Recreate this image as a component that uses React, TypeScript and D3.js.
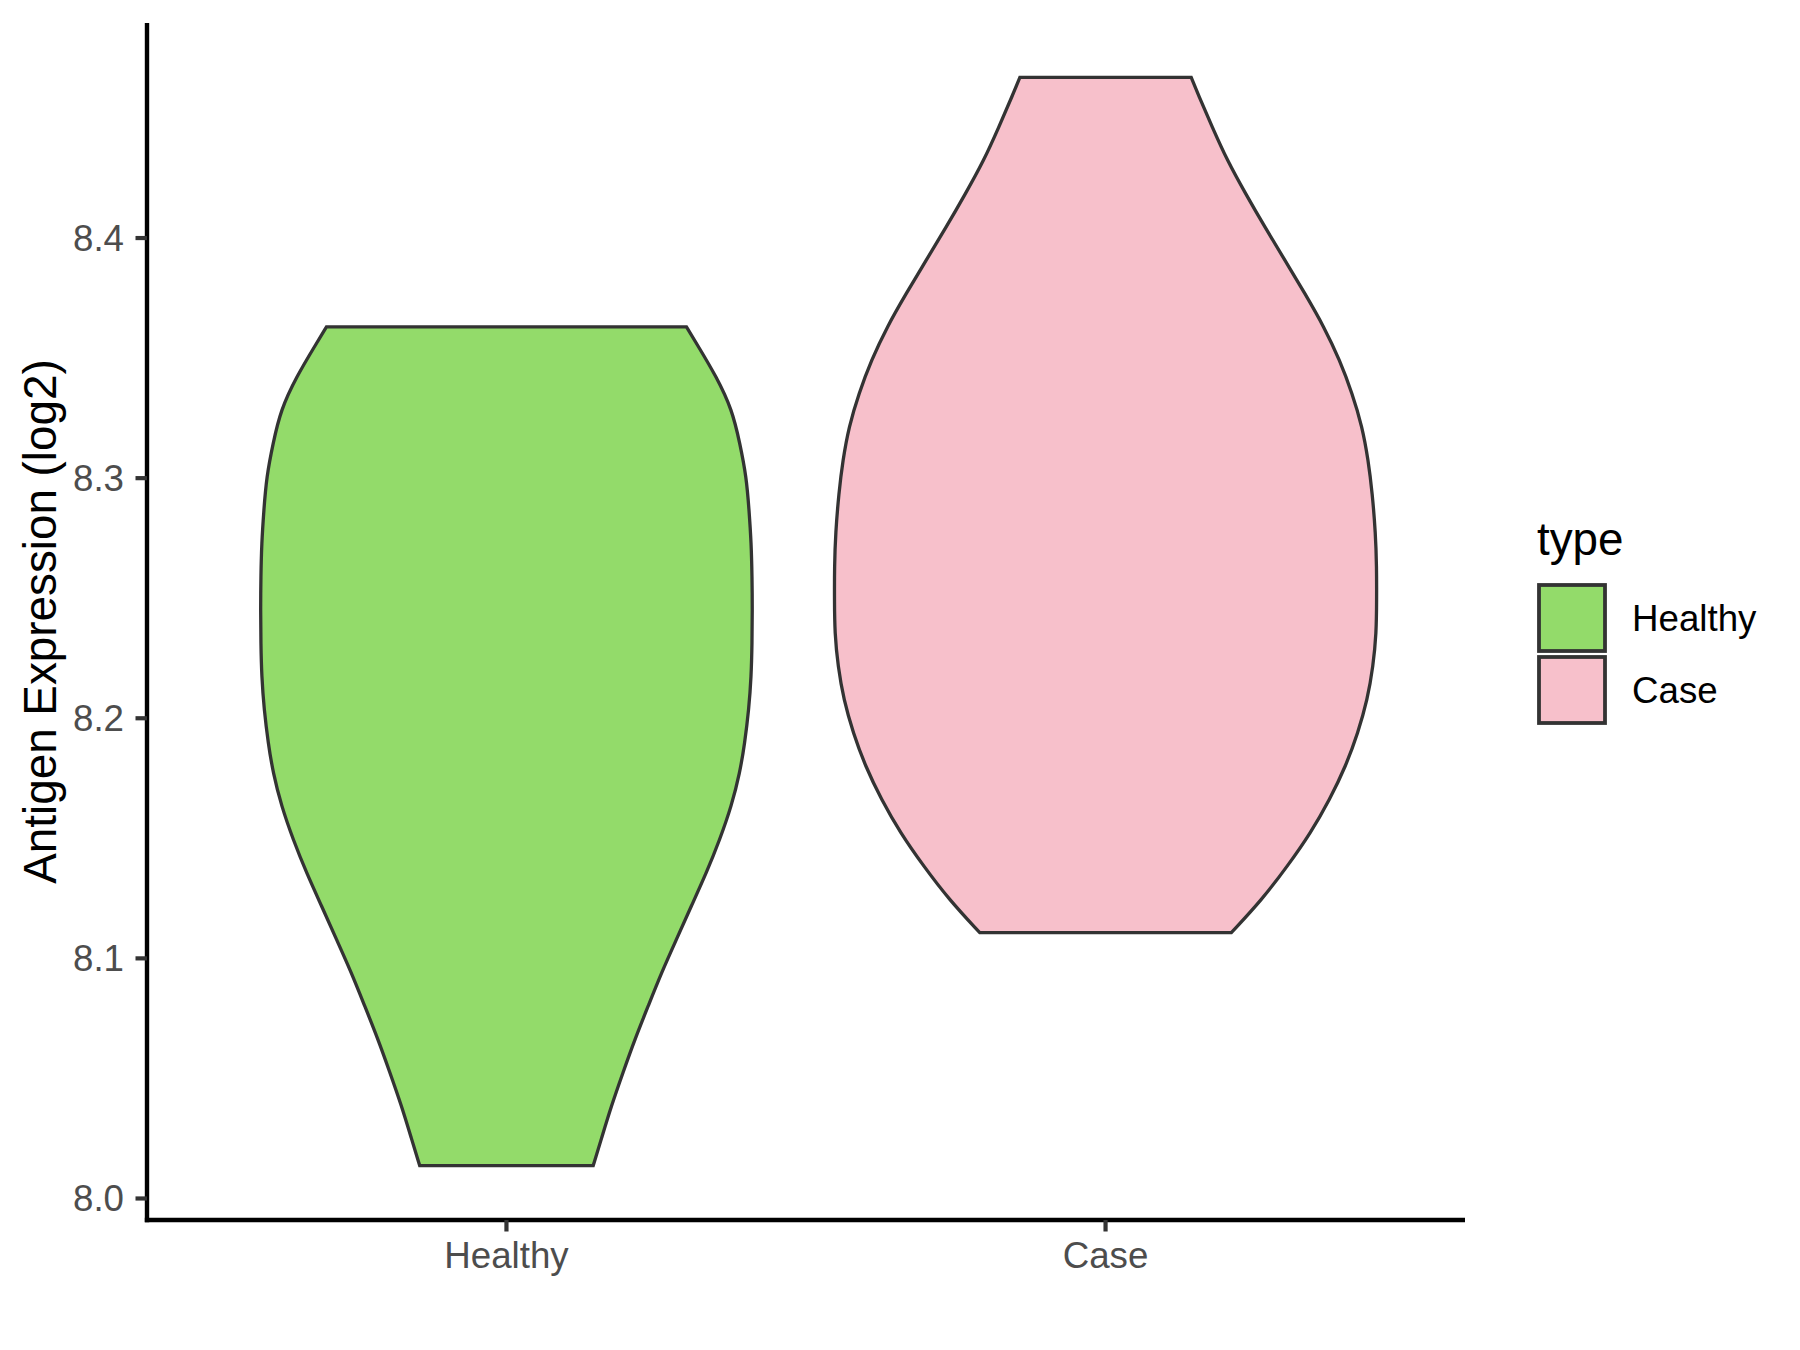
import React from "react";
import * as d3 from "d3";

const categories = ["Healthy", "Case"];
const fills = ["#93DB6A", "#F7C0CB"];
const yTicks = [8.0, 8.1, 8.2, 8.3, 8.4];

// Violin profiles: expression value and relative density (half-width)
const healthyValues = [8.3630, 8.3561, 8.3422, 8.3283, 8.3145, 8.3006, 8.2867, 8.2729, 8.2590, 8.2452, 8.2313, 8.2174, 8.2036, 8.1897, 8.1773, 8.1634, 8.1495, 8.1357, 8.1218, 8.1079, 8.0941, 8.0802, 8.0664, 8.0525, 8.0386, 8.0248, 8.0137];
const healthyDensity = [0.664, 0.701, 0.775, 0.833, 0.861, 0.885, 0.895, 0.903, 0.906, 0.907, 0.906, 0.903, 0.894, 0.879, 0.861, 0.830, 0.787, 0.738, 0.682, 0.627, 0.572, 0.523, 0.474, 0.430, 0.387, 0.350, 0.320];

const caseValues = [8.4669, 8.4600, 8.4461, 8.4323, 8.4184, 8.4045, 8.3907, 8.3768, 8.3630, 8.3491, 8.3353, 8.3214, 8.3075, 8.2937, 8.2771, 8.2632, 8.2493, 8.2355, 8.2216, 8.2077, 8.1939, 8.1800, 8.1662, 8.1523, 8.1384, 8.1246, 8.1107];
const caseDensity = [0.316, 0.341, 0.394, 0.449, 0.517, 0.588, 0.662, 0.736, 0.806, 0.864, 0.910, 0.947, 0.969, 0.984, 0.996, 1.0, 1.0, 0.999, 0.987, 0.966, 0.931, 0.886, 0.827, 0.757, 0.671, 0.578, 0.464];

const profiles = [
  { values: healthyValues, density: healthyDensity },
  { values: caseValues, density: caseDensity },
];

const W = 1800;
const H = 1350;
const panelLeft = 147;
const panelRight = 1465;
const panelTop = 23;
const panelBottom = 1220;

const FONT = "'Liberation Sans', Arial, sans-serif";

export default function App() {
  const allVals = [...healthyValues, ...caseValues];
  const vmin = d3.min(allVals) as number;
  const vmax = d3.max(allVals) as number;
  const pad = (vmax - vmin) * 0.05;
  const y = d3.scaleLinear().domain([vmin - pad, vmax + pad]).range([panelBottom, panelTop]);
  const x = d3.scaleLinear().domain([0.4, 2.6]).range([panelLeft, panelRight]);
  const unit = x(2) - x(1);
  const wScale = d3.scaleLinear().domain([0, 1]).range([0, unit * 0.4525]);

  const violins = profiles.map((p, i) => {
    const cx = x(i + 1);
    const pts = p.values.map((v, j) => ({ v, d: p.density[j] }));
    const area = d3
      .area<{ v: number; d: number }>()
      .y((d) => y(d.v))
      .x0((d) => cx - wScale(d.d))
      .x1((d) => cx + wScale(d.d))
      .curve(d3.curveBasis);
    return area(pts) as string;
  });

  return (
    <svg
      width={W}
      height={H}
      style={{ position: "absolute", left: 0, top: 0, background: "#fff" }}
      fontFamily={FONT}
    >
      <rect x={0} y={0} width={W} height={H} fill="#fff" />
      {violins.map((d, i) => (
        <path key={i} d={d} fill={fills[i]} stroke="#333333" strokeWidth={3.3} strokeLinejoin="miter" />
      ))}
      {/* axes */}
      <line x1={panelLeft} x2={panelLeft} y1={panelTop} y2={panelBottom + 2.2} stroke="#000" strokeWidth={4.4} />
      <line x1={panelLeft - 2.2} x2={panelRight} y1={panelBottom} y2={panelBottom} stroke="#000" strokeWidth={4.4} />
      {yTicks.map((t) => (
        <g key={t}>
          <line x1={panelLeft - 11.5} x2={panelLeft} y1={y(t)} y2={y(t)} stroke="#333333" strokeWidth={4.2} />
          <text x={124} y={y(t) + 13} textAnchor="end" fontSize={36.7} fill="#4D4D4D">
            {t.toFixed(1)}
          </text>
        </g>
      ))}
      {categories.map((c, i) => (
        <g key={c}>
          <line x1={x(i + 1)} x2={x(i + 1)} y1={panelBottom} y2={panelBottom + 11.5} stroke="#333333" strokeWidth={4.2} />
          <text x={x(i + 1)} y={1268} textAnchor="middle" fontSize={36.7} fill="#4D4D4D">
            {c}
          </text>
        </g>
      ))}
      <text
        transform={`translate(56, ${(panelTop + panelBottom) / 2}) rotate(-90)`}
        textAnchor="middle"
        fontSize={45.8}
        fill="#000"
      >
        Antigen Expression (log2)
      </text>
      {/* legend */}
      <text x={1537} y={555} fontSize={45.8} fill="#000">
        type
      </text>
      {categories.map((c, i) => (
        <g key={c}>
          <rect x={1539} y={585 + i * 72} width={66} height={66} fill={fills[i]} stroke="#333333" strokeWidth={3.8} />
          <text x={1632} y={618 + i * 72 + 13} fontSize={36.7} fill="#000">
            {c}
          </text>
        </g>
      ))}
    </svg>
  );
}
